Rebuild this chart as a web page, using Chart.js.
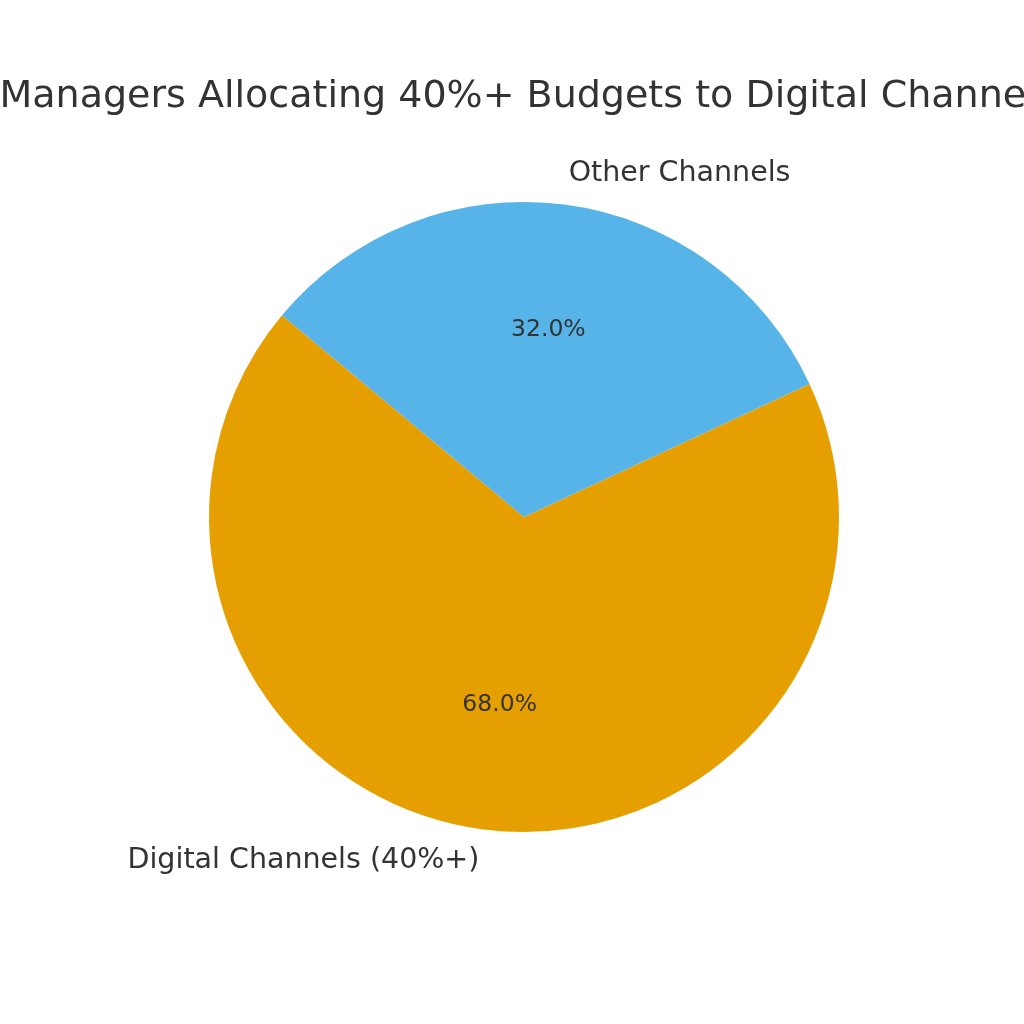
<!DOCTYPE html>
<html>
<head>
<meta charset="utf-8">
<script src="https://cdn.jsdelivr.net/npm/chart.js@4.4.1/dist/chart.umd.min.js"></script>
<style>
  html, body { margin: 0; padding: 0; background: #ffffff; }
  #wrap { width: 1024px; height: 1024px; position: relative; }
</style>
</head>
<body>
<div id="wrap"><canvas id="chart-pie" width="1024" height="1024"></canvas></div>
<script>
// chart data
const chartTitle = "Managers Allocating 40%+ Budgets to Digital Channels";
const categories = ["Digital Channels (40%+)", "Other Channels"];
const shares = [68, 32];
const sliceColors = ["#E69F00", "#56B4E9"];

const textColor = "#333333";
const fontFamily = "'DejaVu Sans', sans-serif";

// draws the title, outer labels (1.1 r) and percent labels (0.6 r), matplotlib style
const pieLabels = {
  id: "pieLabels",
  afterDraw: function(chart) {
    const ctx = chart.ctx;
    const meta = chart.getDatasetMeta(0);
    const total = shares.reduce((a, b) => a + b, 0);

    ctx.save();
    ctx.fillStyle = textColor;

    // title is wider than the canvas, so it gets cut at both sides
    ctx.font = "38px " + fontFamily;
    ctx.textAlign = "center";
    ctx.textBaseline = "middle";
    ctx.fillText(chartTitle, 528, 97);

    meta.data.forEach(function(arc, i) {
      const p = arc.getProps(["x", "y", "startAngle", "endAngle", "outerRadius"], true);
      const mid = (p.startAngle + p.endAngle) / 2;
      const cos = Math.cos(mid), sin = Math.sin(mid);

      ctx.font = "28.5px " + fontFamily;
      ctx.textAlign = cos >= 0 ? "left" : "right";
      ctx.textBaseline = "middle";
      ctx.fillText(categories[i], p.x + cos * p.outerRadius * 1.1, p.y + sin * p.outerRadius * 1.1);

      ctx.font = "23.5px " + fontFamily;
      ctx.textAlign = "center";
      const pct = (shares[i] / total * 100).toFixed(1) + "%";
      ctx.fillText(pct, p.x + cos * p.outerRadius * 0.6, p.y + sin * p.outerRadius * 0.6);
    });
    ctx.restore();
  }
};

const canvas = document.getElementById("chart-pie");
new Chart(canvas.getContext("2d"), {
  type: "pie",
  data: {
    labels: categories,
    datasets: [{
      data: shares,
      backgroundColor: sliceColors,
      borderWidth: 0,
      hoverOffset: 0
    }]
  },
  options: {
    responsive: false,
    animation: false,
    rotation: 65,
    layout: {
      padding: { left: 209, right: 185, top: 202, bottom: 192 }
    },
    plugins: {
      legend: { display: false },
      tooltip: { enabled: false },
      title: { display: false }
    }
  },
  plugins: [pieLabels]
});
</script>
</body>
</html>
